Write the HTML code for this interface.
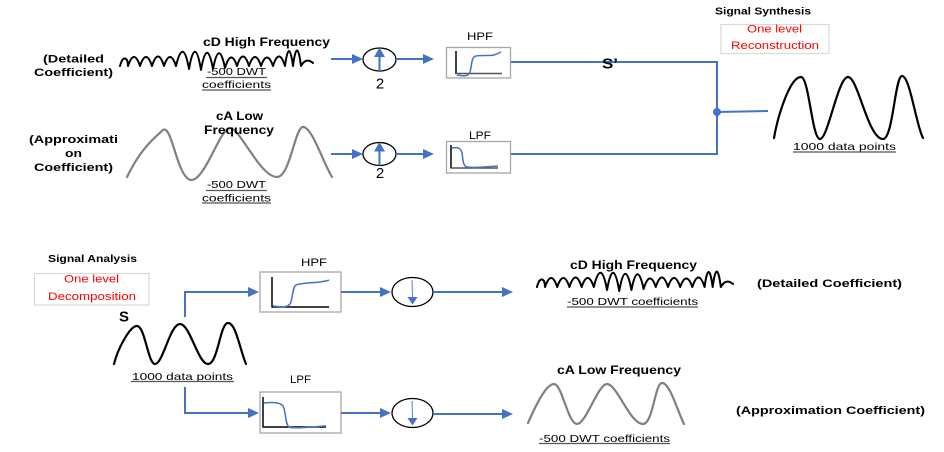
<!DOCTYPE html>
<html>
<head>
<meta charset="utf-8">
<style>
html,body{margin:0;padding:0;background:#fff;}
svg{display:block;}
text{font-family:"Liberation Sans",sans-serif;dominant-baseline:central;}
.b{font-weight:bold;fill:#000;}
.n{fill:#000;}
.r{fill:#ff0000;}
.blue{stroke:#4472c4;stroke-width:2;fill:none;}
.ah{fill:#4472c4;stroke:none;}
.box{fill:#fff;stroke:#a6a6a6;stroke-width:1.3;}
.lbox{fill:#fff;stroke:#d9d9d9;stroke-width:1.2;}
.sig{stroke:#000;stroke-width:2.2;fill:none;stroke-linecap:round;stroke-linejoin:round;}
.wg{stroke:#000;stroke-width:2;fill:none;stroke-linecap:round;stroke-linejoin:round;}
.gsig{stroke:#808080;stroke-width:2.2;fill:none;stroke-linecap:round;stroke-linejoin:round;}
.ulg{stroke:#555;stroke-width:1.2;}
</style>
</head>
<body>
<svg width="944" height="452" viewBox="0 0 944 452" xmlns="http://www.w3.org/2000/svg">
<defs>
<path id="wig" d="M120,66 Q123,55 127,60 Q128,63 128,66 Q134,48 140,66 Q146,48 152,66 Q158,47 164,66 Q170,48 176,66 Q183,36 189,69 Q195,34 201,70 Q207,36 213,69 Q219,38 225,68 Q231,48 237,66 Q243,47 249,66 Q255,48 261,66 Q267,49 273,66 Q279,47 285,66 Q289,36 293,66 Q297,35 301,66 Q306,57 313,63"/>
</defs>

<!-- ================= TOP: SYNTHESIS ================= -->
<text class="b" x="43" y="59.5" font-size="11" textLength="61" lengthAdjust="spacingAndGlyphs">(Detailed</text>
<text class="b" x="34" y="73" font-size="11" textLength="79" lengthAdjust="spacingAndGlyphs">Coefficient)</text>

<use href="#wig" class="wg"/>

<text class="b" x="203" y="43" font-size="11.5" textLength="127" lengthAdjust="spacingAndGlyphs">cD High Frequency</text>
<text class="n" x="207" y="72" font-size="10.5" textLength="59" lengthAdjust="spacingAndGlyphs">-500 DWT</text>
<line class="ulg" x1="206" y1="77.5" x2="267" y2="77.5"/>
<text class="n" x="202" y="85" font-size="10.5" textLength="69" lengthAdjust="spacingAndGlyphs">coefficients</text>
<line class="ulg" x1="202" y1="90" x2="271" y2="90"/>

<!-- upsampler 1 -->
<line class="blue" x1="331" y1="59" x2="354" y2="59"/>
<polygon class="ah" points="352,54 363,59 352,64"/>
<ellipse cx="379.5" cy="59.5" rx="16.5" ry="11.5" fill="#fff" stroke="#000" stroke-width="1.3"/>
<line class="blue" x1="379.5" y1="71" x2="379.5" y2="55"/>
<polygon class="ah" points="374,57 379.5,47.5 385,57"/>
<text class="n" x="380" y="84" font-size="15" text-anchor="middle">2</text>
<line class="blue" x1="396" y1="59" x2="425" y2="59"/>
<polygon class="ah" points="423,54 434,59 423,64"/>

<!-- HPF top -->
<text class="n" x="467" y="37" font-size="11" textLength="26" lengthAdjust="spacingAndGlyphs">HPF</text>
<rect class="box" x="446.5" y="47.5" width="64" height="30.5"/>
<line x1="456" y1="51" x2="456" y2="74" stroke="#000" stroke-width="1.5"/>
<line x1="456" y1="73.5" x2="502" y2="73.5" stroke="#555" stroke-width="1.5"/>
<path d="M457,75 C463,76 468,77 470,72 C472,66 471,57 476,56 C482,55 490,56 494,55 C497,54 499,53 501,52" stroke="#4472c4" stroke-width="1.5" fill="none"/>

<!-- upsampler 2 -->
<line class="blue" x1="331" y1="154" x2="354" y2="154"/>
<polygon class="ah" points="352,149 363,154 352,159"/>
<ellipse cx="379.5" cy="154" rx="16.5" ry="11.5" fill="#fff" stroke="#000" stroke-width="1.3"/>
<line class="blue" x1="379.5" y1="165.5" x2="379.5" y2="149"/>
<polygon class="ah" points="374,151.5 379.5,142 385,151.5"/>
<text class="n" x="380" y="173.5" font-size="15" text-anchor="middle">2</text>
<line class="blue" x1="396" y1="154" x2="425" y2="154"/>
<polygon class="ah" points="423,149 434,154 423,159"/>

<!-- LPF top -->
<text class="n" x="469" y="136" font-size="11" textLength="22" lengthAdjust="spacingAndGlyphs">LPF</text>
<rect class="box" x="446.5" y="141.5" width="64" height="31.5"/>
<line x1="451" y1="145" x2="451" y2="168.5" stroke="#000" stroke-width="1.5"/>
<line x1="451" y1="168" x2="498" y2="168" stroke="#555" stroke-width="1.5"/>
<path d="M452,148 C458,147 461,148 462,153 C463,160 463,166 467,167 C475,168 485,167 498,166" stroke="#4472c4" stroke-width="1.5" fill="none"/>

<!-- approximation labels -->
<text class="b" x="29" y="140" font-size="11" textLength="89" lengthAdjust="spacingAndGlyphs">(Approximati</text>
<text class="b" x="65" y="154" font-size="11" textLength="17" lengthAdjust="spacingAndGlyphs">on</text>
<text class="b" x="34" y="168" font-size="11" textLength="79" lengthAdjust="spacingAndGlyphs">Coefficient)</text>

<path class="gsig" d="M127,177 C140,150 152,140 163,130 C172,124 177,178 191,180 C205,181 220,128 230,128 C240,128 260,177 277,177 C290,177 295,127 303,127 C312,127 322,160 332,177"/>

<text class="b" x="216" y="117" font-size="11.5" textLength="47" lengthAdjust="spacingAndGlyphs">cA Low</text>
<text class="b" x="204" y="131" font-size="11.5" textLength="70" lengthAdjust="spacingAndGlyphs">Frequency</text>
<text class="n" x="207" y="185" font-size="10.5" textLength="59" lengthAdjust="spacingAndGlyphs">-500 DWT</text>
<line class="ulg" x1="206" y1="190.5" x2="267" y2="190.5"/>
<text class="n" x="202" y="198.5" font-size="10.5" textLength="69" lengthAdjust="spacingAndGlyphs">coefficients</text>
<line class="ulg" x1="202" y1="203" x2="271" y2="203"/>

<!-- combine -->
<polyline class="blue" points="511,62 717,62 717,154 511,154"/>
<circle cx="717" cy="112" r="4" fill="#4472c4"/>
<line class="blue" x1="717" y1="112" x2="768" y2="111" stroke-width="1.6"/>
<text class="b" x="602" y="64" font-size="15" textLength="16" lengthAdjust="spacingAndGlyphs">S’</text>

<text class="b" x="715" y="12" font-size="10" textLength="96" lengthAdjust="spacingAndGlyphs">Signal Synthesis</text>
<rect class="lbox" x="721" y="24.5" width="108" height="29"/>
<text class="r" x="747" y="29.5" font-size="11" textLength="55" lengthAdjust="spacingAndGlyphs">One level</text>
<text class="r" x="731" y="46" font-size="11" textLength="88" lengthAdjust="spacingAndGlyphs">Reconstruction</text>

<path class="sig" d="M774,138 C778,115 790,77 801,77 C809,77 812,139 820,139 C828,139 838,77 848,77 C858,77 868,139 883,139 C893,139 895,76 902,76 C910,76 916,125 923,138"/>
<text class="n" x="793" y="147" font-size="10.5" textLength="103" lengthAdjust="spacingAndGlyphs">1000 data  points</text>
<line class="ulg" x1="793" y1="152" x2="896" y2="152"/>

<!-- ================= BOTTOM: ANALYSIS ================= -->
<text class="b" x="48" y="259" font-size="10.5" textLength="89" lengthAdjust="spacingAndGlyphs">Signal Analysis</text>
<rect class="lbox" x="34.5" y="273.5" width="114.5" height="31.5"/>
<text class="r" x="64" y="279.5" font-size="11" textLength="55" lengthAdjust="spacingAndGlyphs">One level</text>
<text class="r" x="48" y="297" font-size="11" textLength="88" lengthAdjust="spacingAndGlyphs">Decomposition</text>

<text class="b" x="119" y="317" font-size="15" textLength="10" lengthAdjust="spacingAndGlyphs">S</text>
<path class="sig" d="M114,364 C118,348 130,326 137,326 C145,326 148,364 155,364 C163,364 170,324 180,324 C190,324 198,364 208,364 C218,364 220,323 228,323 C236,323 240,350 246,364"/>
<text class="n" x="132" y="377" font-size="10.5" textLength="101" lengthAdjust="spacingAndGlyphs">1000  data points</text>
<line class="ulg" x1="131" y1="381.5" x2="234" y2="381.5"/>

<!-- splits -->
<polyline class="blue" points="185,317 185,292 250,292"/>
<polygon class="ah" points="248,287 259,292 248,297"/>
<polyline class="blue" points="185,387 185,413 250,413"/>
<polygon class="ah" points="248,408 259,413 248,418"/>

<!-- HPF bottom -->
<text class="n" x="301" y="263" font-size="11" textLength="26" lengthAdjust="spacingAndGlyphs">HPF</text>
<rect class="box" x="260" y="272" width="81" height="40"/>
<line x1="272" y1="277" x2="272" y2="307.5" stroke="#000" stroke-width="1.5"/>
<line x1="272" y1="307" x2="329" y2="307" stroke="#000" stroke-width="1.5"/>
<path d="M273,306 C280,307 287,308 290,304 C293,299 292,288 296,285 C300,283 312,283 320,282 C325,281 327,281 329,280" stroke="#4472c4" stroke-width="1.5" fill="none"/>

<line class="blue" x1="341" y1="292" x2="382" y2="292"/>
<polygon class="ah" points="380,287 391,292 380,297"/>
<ellipse cx="412.5" cy="292" rx="20.5" ry="14.5" fill="#fff" stroke="#000" stroke-width="1.3"/>
<line x1="412" y1="280" x2="412.5" y2="298" stroke="#4472c4" stroke-width="0.9"/>
<polygon class="ah" points="407.5,297 417.5,297 412.5,304.5"/>
<line class="blue" x1="433" y1="292" x2="504" y2="292"/>
<polygon class="ah" points="502,287 513,292 502,297"/>

<!-- LPF bottom -->
<text class="n" x="290" y="380" font-size="11" textLength="21" lengthAdjust="spacingAndGlyphs">LPF</text>
<rect class="box" x="260" y="392" width="81" height="41"/>
<line x1="263" y1="397" x2="263" y2="427.5" stroke="#000" stroke-width="1.5"/>
<line x1="263" y1="427" x2="326" y2="427" stroke="#000" stroke-width="1.5"/>
<path d="M264,403 C272,402 280,402 283,406 C286,411 285,424 289,427 C294,429 305,427 315,427 C320,426 323,426 326,426" stroke="#4472c4" stroke-width="1.5" fill="none"/>

<line class="blue" x1="341" y1="413" x2="382" y2="413"/>
<polygon class="ah" points="380,408 391,413 380,418"/>
<ellipse cx="412.5" cy="413" rx="20.5" ry="14.5" fill="#fff" stroke="#000" stroke-width="1.3"/>
<line x1="412" y1="401" x2="412.5" y2="419" stroke="#4472c4" stroke-width="0.9"/>
<polygon class="ah" points="407.5,418 417.5,418 412.5,425.5"/>
<line class="blue" x1="433" y1="414" x2="504" y2="414"/>
<polygon class="ah" points="502,409 513,414 502,419"/>

<!-- outputs -->
<text class="b" x="570" y="266" font-size="11.5" textLength="127" lengthAdjust="spacingAndGlyphs">cD High Frequency</text>
<use href="#wig" class="wg" transform="translate(415,221) scale(1.016,1)"/>
<text class="n" x="567" y="302" font-size="10.5" textLength="131" lengthAdjust="spacingAndGlyphs">-500 DWT coefficients</text>
<line class="ulg" x1="567" y1="307" x2="698" y2="307"/>
<text class="b" x="757" y="284" font-size="11" textLength="145" lengthAdjust="spacingAndGlyphs">(Detailed Coefficient)</text>

<text class="b" x="557" y="371" font-size="11.5" textLength="124" lengthAdjust="spacingAndGlyphs">cA Low Frequency</text>
<path class="gsig" d="M528,423 C536,405 546,384 554,384 C562,384 568,424 577,424 C586,424 598,384 607,384 C617,384 630,424 643,424 C653,424 655,383 662,383 C670,383 677,410 684,424"/>
<text class="n" x="539" y="439" font-size="10.5" textLength="131" lengthAdjust="spacingAndGlyphs">-500 DWT coefficients</text>
<line class="ulg" x1="539" y1="443.5" x2="670" y2="443.5"/>
<text class="b" x="736" y="411" font-size="11" textLength="189" lengthAdjust="spacingAndGlyphs">(Approximation Coefficient)</text>
</svg>
</body>
</html>
